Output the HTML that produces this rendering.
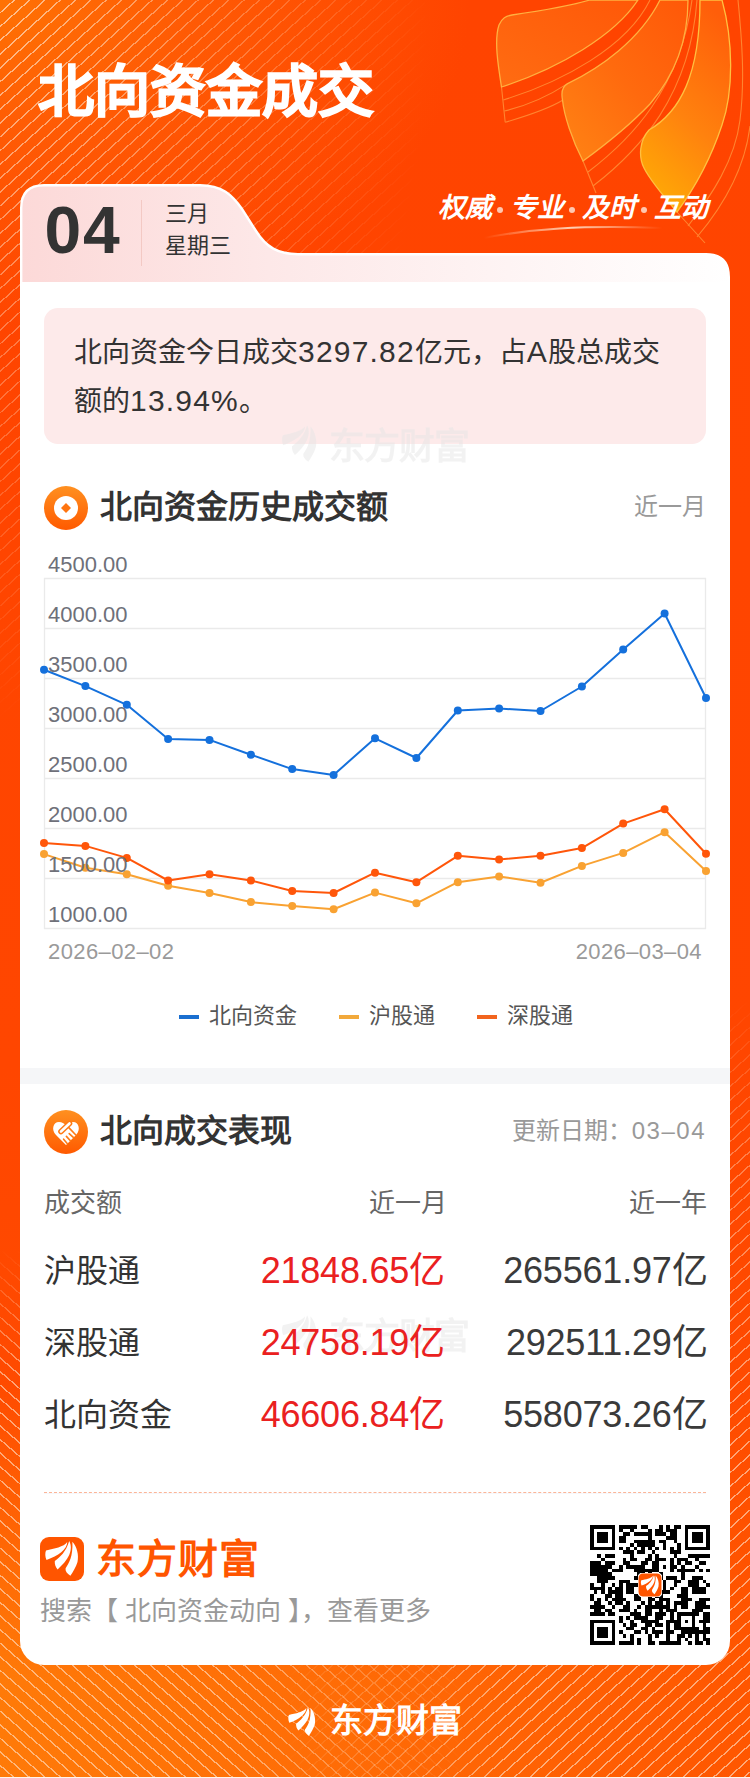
<!DOCTYPE html>
<html lang="zh-CN">
<head>
<meta charset="utf-8">
<style>
*{margin:0;padding:0;box-sizing:border-box;}
html,body{width:750px;height:1778px;overflow:hidden;}
body{position:relative;font-family:"Liberation Sans",sans-serif;color:#333;background:#FF4A00;}
.abs{position:absolute;}
#bg{left:0;top:0;width:750px;height:1778px;
 background:
  radial-gradient(ellipse 470px 330px at 0 0, rgba(255,114,4,1) 0%, rgba(255,100,6,.7) 40%, rgba(255,70,0,0) 100%),
  linear-gradient(180deg,#FF4400 0%,#FF4600 60%,#FF5000 100%);}
#stripeTL{left:0;top:0;width:750px;height:760px;
 background:repeating-linear-gradient(138deg, rgba(255,225,200,0) 0 8.9px, rgba(255,225,200,.72) 8.9px 10.25px);
 -webkit-mask-image:radial-gradient(ellipse 430px 720px at 0 0, #000 0%, rgba(0,0,0,.5) 45%, transparent 100%);}
.sw{left:0;width:750px;}
.sw>div{position:absolute;left:0;top:0;width:100%;height:100%;}
#botgrad{left:0;top:1380px;width:750px;height:398px;background:linear-gradient(90deg,#FF7A08 0%,#FF6C06 45%,#FF5600 100%);-webkit-mask-image:linear-gradient(180deg,transparent 0%,rgba(0,0,0,.7) 50%,#000 75%);}
#stripeBL{top:1250px;height:528px;-webkit-mask-image:linear-gradient(90deg,#000 0%,#000 30%,transparent 62%);}
#stripeBL>div{background:repeating-linear-gradient(41deg, rgba(255,225,200,0) 0 8.9px, rgba(255,225,200,.6) 8.9px 10.25px);
 -webkit-mask-image:linear-gradient(180deg,transparent 0%,#000 25%);}
#stripeBR{top:1000px;height:778px;-webkit-mask-image:linear-gradient(90deg,transparent 0%,transparent 38%,#000 68%);}
#stripeBR>div{background:repeating-linear-gradient(138deg, rgba(255,225,200,0) 0 8.9px, rgba(255,225,200,.6) 8.9px 10.25px);
 -webkit-mask-image:linear-gradient(180deg,transparent 0%,rgba(0,0,0,.6) 20%,#000 60%);}
#botline{left:0;top:1777px;width:750px;height:1px;background:#FFF4EC;}
.title{left:38px;top:55.5px;font-size:56px;font-weight:bold;-webkit-text-stroke:1.4px #fff;color:#fff;letter-spacing:0px;line-height:72px;white-space:nowrap;}
.slogan{left:438px;top:191.5px;font-style:italic;font-weight:bold;font-size:27px;line-height:32px;color:#fff;white-space:nowrap;}
.slogan i{display:inline-block;width:18px;height:8px;position:relative;}.slogan i:after{content:"";position:absolute;left:5px;top:-2px;width:6px;height:6px;border-radius:50%;background:#FFC8B0;}
#cardtop{left:0;top:0;}
#card{left:20px;top:282px;width:710px;height:1383px;background:#fff;border-radius:0 0 24px 24px;}
.day{left:44.5px;top:194px;font-size:66px;font-weight:bold;color:#333;line-height:72px;letter-spacing:1.8px;}
.vsep{left:141px;top:200px;width:1px;height:66px;background:#F3C9C4;}
.mon{left:165px;top:197.5px;font-size:22px;color:#333;line-height:32.5px;}
.sum{left:44px;top:308px;width:662px;height:136px;background:#FDEAEA;border-radius:14px;}
.sumtxt{left:74px;top:328px;width:600px;font-size:28px;line-height:48px;color:#333;}
.icon{width:44px;height:44px;}
.h2{font-size:32px;font-weight:bold;color:#333;line-height:40px;white-space:nowrap;}
.grey{color:#999;font-size:24px;line-height:32px;white-space:nowrap;}
.chart{position:absolute;left:0;top:0;}
.yl{font-size:22px;fill:#6E7079;font-family:"Liberation Sans",sans-serif;}
.xl{font-size:22px;letter-spacing:.4px;fill:#9A9A9A;font-family:"Liberation Sans",sans-serif;}
.legend{top:1000px;font-size:22px;color:#555;line-height:32px;white-space:nowrap;}
.lg{position:absolute;height:4px;width:20px;top:1015px;}
.band{left:20px;top:1068px;width:710px;height:16px;background:#F5F6F8;}
.th{font-size:26px;color:#666;line-height:32px;white-space:nowrap;}
.rowl{font-size:32px;color:#333;line-height:40px;white-space:nowrap;}
.rv{font-size:36px;line-height:40px;white-space:nowrap;text-align:right;letter-spacing:-.2px;color:#3A3A3A;}
.red{color:#EA2020;}
.dash{left:44px;top:1491.8px;width:662px;height:2.5px;border-top:1.5px dashed #FBB597;border-bottom:1px solid #F7F7FA;}
.brand{font-size:40px;font-weight:bold;color:#FF5500;line-height:48px;white-space:nowrap;letter-spacing:1px;}
.search{left:40px;top:1594px;font-size:26px;color:#999;line-height:34px;white-space:nowrap;}
.qr{position:absolute;left:590px;top:1525px;}
.wm{opacity:.06;}
.n{font-size:30px;letter-spacing:1.2px;}
.d{letter-spacing:1.5px;}
</style>
</head>
<body>
<div id="bg" class="abs"></div>
<div id="botgrad" class="abs"></div>
<div id="stripeTL" class="abs"></div>
<div id="stripeBL" class="abs sw"><div></div></div>
<div id="stripeBR" class="abs sw"><div></div></div>
<div id="botline" class="abs"></div>

<svg width="0" height="0" style="position:absolute">
 <defs>
  <g id="leaves">
   <path d="M6,13.5 C14,11.5 24,10 27.2,5 C27.5,12 18,19 6.5,23 C5,20 5,16 6,13.5 Z"/>
   <path d="M14.8,24 C20,20 26,15 29.2,4 C32.5,10 32,20 17.6,32.4 C15.5,30 14.5,27 14.8,24 Z"/>
   <path d="M25.6,31.2 C29,26 33,20 32.4,4.8 C37,10 39,18 37.5,25 C36,30 33,35 30.4,38.8 C27,36.5 25,34 25.6,31.2 Z"/>
  </g>
 </defs>
</svg>

<!-- big decor top-right -->
<svg class="abs" style="left:0;top:0" width="750" height="260" viewBox="0 0 750 260">
 <defs>
  <linearGradient id="lfA" x1="0" y1="1" x2="1" y2="0"><stop offset="0" stop-color="#FF6C12"/><stop offset="1" stop-color="#FF5808"/></linearGradient>
  <linearGradient id="lfB" x1="0" y1="1" x2="1" y2="0"><stop offset="0" stop-color="#FF8414"/><stop offset=".5" stop-color="#FF6A0E"/><stop offset="1" stop-color="#FF5808"/></linearGradient>
  <linearGradient id="lfC" x1="0.3" y1="1" x2="0.7" y2="0"><stop offset="0" stop-color="#FFAA06"/><stop offset=".45" stop-color="#FF820E"/><stop offset="1" stop-color="#FF5E0A"/></linearGradient>
  <linearGradient id="arc" x1="0" y1="0" x2="1" y2="0"><stop offset="0" stop-color="#FFE0C8" stop-opacity="0"/><stop offset=".5" stop-color="#FFE0C8" stop-opacity=".9"/><stop offset="1" stop-color="#FFE0C8" stop-opacity="0"/></linearGradient>
 </defs>
 <g fill="none" stroke="#FF9A40" stroke-width="1.1" opacity=".75">
  <path d="M503.3,100 C562,82 627,47 650,0"/>
  <path d="M504.3,111 C530,105 550,95 567.6,83.6"/>
  <path d="M505.2,122.3 C530,115 550,108 563,100"/>
  <path d="M501.5,87 L505.2,122.3"/>
  <path d="M588,172 C630,140 680,90 692,0"/>
  <path d="M593,186 C640,150 690,95 697,0"/>
  <path d="M583,161 L596,193"/>
  <path d="M688,226 C712,195 735,160 740,120 C745,80 742,40 738,0"/>
  <path d="M697,237 C724,205 745,168 750,126"/>
  <path d="M677,212 L705,243"/>
 </g>
 <path d="M501.5,87 C498,65 494,40 499,25 C502,18 506,16 512,15 C540,11 570,6 590,0 L638,0 C615,35 560,68 501.5,87 Z" fill="url(#lfA)" stroke="#FFB040" stroke-width="1.3"/>
 <path d="M567.6,83.6 C600,68 640,40 660,0 L688,0 C688,40 675,75 650,104 C630,125 605,145 583,161 C572,140 564,115 562.5,100 C561,92 563,86 567.6,83.6 Z" fill="url(#lfB)" stroke="#FFB040" stroke-width="1.3"/>
 <path d="M649,130 C680,112 700,75 700,0 L722,0 C733,40 734,90 722,125 C712,155 697,185 677,212 C665,198 650,180 644,168 C638,156 640,140 649,130 Z" fill="url(#lfC)" stroke="#FFC040" stroke-width="1.3"/>
 <path d="M484,238 C530,229 580,225 662,228" fill="none" stroke="url(#arc)" stroke-width="2"/>
</svg>

<div class="abs title">北向资金成交</div>
<div class="abs slogan">权威<i></i>专业<i></i>及时<i></i>互动</div>

<!-- card top shape -->
<svg class="abs" style="left:0;top:0" width="750" height="300" viewBox="0 0 750 300">
 <defs>
  <linearGradient id="tabg" x1="0" y1="0" x2="1" y2="0">
   <stop offset="0" stop-color="#FCD9D8"/><stop offset=".35" stop-color="#FDE8E8"/><stop offset="1" stop-color="#FFFFFF"/>
  </linearGradient>
  <linearGradient id="tabv" x1="0" y1="0" x2="0" y2="1">
   <stop offset="0" stop-color="#fff" stop-opacity="0"/><stop offset=".75" stop-color="#fff" stop-opacity="0"/><stop offset="1" stop-color="#fff" stop-opacity=".3"/>
  </linearGradient>
 </defs>
 <path d="M21.2,300 L21.2,208 Q21.2,185.2 44,185.2 L200,185.2 C222,185.2 232,195 242,209 L256,231 C266,247 278,254.2 298,254.2 L706,254.2 Q728.8,254.2 728.8,277 L728.8,300 Z" fill="url(#tabg)" stroke="#fff" stroke-width="2.4"/>
</svg>
<div id="card" class="abs"></div>

<div class="abs day">04</div>
<div class="abs vsep"></div>
<div class="abs mon">三月<br>星期三</div>

<div class="abs sum"></div>
<div class="abs sumtxt">北向资金今日成交<span class="n">3297.82</span>亿元，占<span class="n">A</span>股总成交<br>额的<span class="n">13.94%</span>。</div>

<!-- watermark -->
<svg class="abs" style="left:270px;top:415px" width="210" height="55" viewBox="0 0 210 55"><g fill="#E6E6E6" opacity=".5"><g transform="translate(6.45,6.1) scale(1.05)"><use href="#leaves"/></g><text x="59" y="44" font-size="36" font-weight="bold" font-family="Liberation Sans,sans-serif" letter-spacing="-1">东方财富</text></g></svg>
<svg class="abs" style="left:270px;top:1305px" width="210" height="55" viewBox="0 0 210 55"><g fill="#E6E6E6" opacity=".5"><g transform="translate(6.45,6.1) scale(1.05)"><use href="#leaves"/></g><text x="59" y="44" font-size="36" font-weight="bold" font-family="Liberation Sans,sans-serif" letter-spacing="-1">东方财富</text></g></svg>

<!-- section 1 header -->
<svg class="abs icon" style="left:44px;top:486px" viewBox="0 0 44 44">
 <defs><linearGradient id="ig1" x1="0" y1="0" x2="0" y2="1"><stop offset="0" stop-color="#FF9020"/><stop offset="1" stop-color="#FF5A00"/></linearGradient></defs>
 <circle cx="22" cy="22" r="22" fill="url(#ig1)"/><circle cx="22" cy="22" r="12" fill="#fff"/>
 <path d="M22,17 L27,22 L22,27 L17,22 Z" fill="#FF7510"/>
</svg>
<div class="abs h2" style="left:100px;top:487px">北向资金历史成交额</div>
<div class="abs grey" style="right:44px;top:491px">近一月</div>

<svg class="chart" width="750" height="1000" viewBox="0 0 750 1000">
<line x1="44" y1="578.5" x2="706" y2="578.5" stroke="#EAEAEA" stroke-width="1.3"/><line x1="44" y1="628.5" x2="706" y2="628.5" stroke="#EAEAEA" stroke-width="1.3"/><line x1="44" y1="678.5" x2="706" y2="678.5" stroke="#EAEAEA" stroke-width="1.3"/><line x1="44" y1="728.5" x2="706" y2="728.5" stroke="#EAEAEA" stroke-width="1.3"/><line x1="44" y1="778.5" x2="706" y2="778.5" stroke="#EAEAEA" stroke-width="1.3"/><line x1="44" y1="828.5" x2="706" y2="828.5" stroke="#EAEAEA" stroke-width="1.3"/><line x1="44" y1="878.5" x2="706" y2="878.5" stroke="#EAEAEA" stroke-width="1.3"/><line x1="44" y1="928.5" x2="706" y2="928.5" stroke="#EAEAEA" stroke-width="1.3"/><line x1="44.5" y1="578" x2="44.5" y2="929" stroke="#EAEAEA" stroke-width="1.3"/><line x1="705.5" y1="578" x2="705.5" y2="929" stroke="#EAEAEA" stroke-width="1.3"/>
<polyline points="44.0,854.1 85.4,867.7 126.8,874.2 168.1,885.8 209.5,893.0 250.9,902.1 292.2,905.9 333.6,909.3 375.0,892.6 416.4,903.3 457.8,882.2 499.1,876.4 540.5,882.7 581.9,865.9 623.2,852.9 664.6,832.2 706.0,871.1" fill="none" stroke="#F9A232" stroke-width="2" stroke-linejoin="round"/><circle cx="44.0" cy="854.1" r="4" fill="#F9A232"/><circle cx="85.4" cy="867.7" r="4" fill="#F9A232"/><circle cx="126.8" cy="874.2" r="4" fill="#F9A232"/><circle cx="168.1" cy="885.8" r="4" fill="#F9A232"/><circle cx="209.5" cy="893.0" r="4" fill="#F9A232"/><circle cx="250.9" cy="902.1" r="4" fill="#F9A232"/><circle cx="292.2" cy="905.9" r="4" fill="#F9A232"/><circle cx="333.6" cy="909.3" r="4" fill="#F9A232"/><circle cx="375.0" cy="892.6" r="4" fill="#F9A232"/><circle cx="416.4" cy="903.3" r="4" fill="#F9A232"/><circle cx="457.8" cy="882.2" r="4" fill="#F9A232"/><circle cx="499.1" cy="876.4" r="4" fill="#F9A232"/><circle cx="540.5" cy="882.7" r="4" fill="#F9A232"/><circle cx="581.9" cy="865.9" r="4" fill="#F9A232"/><circle cx="623.2" cy="852.9" r="4" fill="#F9A232"/><circle cx="664.6" cy="832.2" r="4" fill="#F9A232"/><circle cx="706.0" cy="871.1" r="4" fill="#F9A232"/>
<polyline points="44.0,843.0 85.4,845.9 126.8,857.9 168.1,880.5 209.5,874.2 250.9,880.5 292.2,891.0 333.6,893.0 375.0,872.7 416.4,882.2 457.8,855.8 499.1,859.6 540.5,855.8 581.9,848.1 623.2,823.6 664.6,809.2 706.0,853.8" fill="none" stroke="#FF560A" stroke-width="2" stroke-linejoin="round"/><circle cx="44.0" cy="843.0" r="4" fill="#FF560A"/><circle cx="85.4" cy="845.9" r="4" fill="#FF560A"/><circle cx="126.8" cy="857.9" r="4" fill="#FF560A"/><circle cx="168.1" cy="880.5" r="4" fill="#FF560A"/><circle cx="209.5" cy="874.2" r="4" fill="#FF560A"/><circle cx="250.9" cy="880.5" r="4" fill="#FF560A"/><circle cx="292.2" cy="891.0" r="4" fill="#FF560A"/><circle cx="333.6" cy="893.0" r="4" fill="#FF560A"/><circle cx="375.0" cy="872.7" r="4" fill="#FF560A"/><circle cx="416.4" cy="882.2" r="4" fill="#FF560A"/><circle cx="457.8" cy="855.8" r="4" fill="#FF560A"/><circle cx="499.1" cy="859.6" r="4" fill="#FF560A"/><circle cx="540.5" cy="855.8" r="4" fill="#FF560A"/><circle cx="581.9" cy="848.1" r="4" fill="#FF560A"/><circle cx="623.2" cy="823.6" r="4" fill="#FF560A"/><circle cx="664.6" cy="809.2" r="4" fill="#FF560A"/><circle cx="706.0" cy="853.8" r="4" fill="#FF560A"/>
<polyline points="44.0,669.8 85.4,686.1 126.8,704.8 168.1,738.9 209.5,739.9 250.9,754.7 292.2,769.1 333.6,774.9 375.0,738.3 416.4,758.0 457.8,710.5 499.1,708.6 540.5,711.0 581.9,686.5 623.2,649.5 664.6,613.5 706.0,698.0" fill="none" stroke="#1470DC" stroke-width="2" stroke-linejoin="round"/><circle cx="44.0" cy="669.8" r="4" fill="#1470DC"/><circle cx="85.4" cy="686.1" r="4" fill="#1470DC"/><circle cx="126.8" cy="704.8" r="4" fill="#1470DC"/><circle cx="168.1" cy="738.9" r="4" fill="#1470DC"/><circle cx="209.5" cy="739.9" r="4" fill="#1470DC"/><circle cx="250.9" cy="754.7" r="4" fill="#1470DC"/><circle cx="292.2" cy="769.1" r="4" fill="#1470DC"/><circle cx="333.6" cy="774.9" r="4" fill="#1470DC"/><circle cx="375.0" cy="738.3" r="4" fill="#1470DC"/><circle cx="416.4" cy="758.0" r="4" fill="#1470DC"/><circle cx="457.8" cy="710.5" r="4" fill="#1470DC"/><circle cx="499.1" cy="708.6" r="4" fill="#1470DC"/><circle cx="540.5" cy="711.0" r="4" fill="#1470DC"/><circle cx="581.9" cy="686.5" r="4" fill="#1470DC"/><circle cx="623.2" cy="649.5" r="4" fill="#1470DC"/><circle cx="664.6" cy="613.5" r="4" fill="#1470DC"/><circle cx="706.0" cy="698.0" r="4" fill="#1470DC"/>
<text x="48" y="572" class="yl">4500.00</text><text x="48" y="622" class="yl">4000.00</text><text x="48" y="672" class="yl">3500.00</text><text x="48" y="722" class="yl">3000.00</text><text x="48" y="772" class="yl">2500.00</text><text x="48" y="822" class="yl">2000.00</text><text x="48" y="872" class="yl">1500.00</text><text x="48" y="922" class="yl">1000.00</text>
<text x="48" y="959" class="xl">2026–02–02</text>
<text x="702" y="959" class="xl" text-anchor="end">2026–03–04</text>
</svg>

<div class="abs lg" style="left:179px;background:#1A6FD0"></div>
<div class="abs legend" style="left:209px">北向资金</div>
<div class="abs lg" style="left:339px;background:#F2A93B"></div>
<div class="abs legend" style="left:369px">沪股通</div>
<div class="abs lg" style="left:477px;background:#F2641E"></div>
<div class="abs legend" style="left:507px">深股通</div>

<div class="abs band"></div>

<!-- section 2 header -->
<svg class="abs icon" style="left:44px;top:1110px" viewBox="0 0 44 44">
 <defs><linearGradient id="ig2" x1="0" y1="0" x2="0" y2="1"><stop offset="0" stop-color="#FF9020"/><stop offset="1" stop-color="#FF5A00"/></linearGradient></defs>
 <circle cx="22" cy="22" r="22" fill="url(#ig2)"/>
 <path d="M22,35 L12,25 C7,20 9,12 15,12 C18,12 20,13.5 22,15.5 C24,13.5 26,12 29,12 C35,12 37,20 32,25 Z" fill="#fff"/>
 <path d="M17,21.5 L25.5,13.5" stroke="#FF7A14" stroke-width="5.6" stroke-linecap="round"/><path d="M17,21.5 L25.5,13.5" stroke="#fff" stroke-width="2.6" stroke-linecap="round"/>
 <path d="M24.8,17.6 L31.6,24.8 M25.2,23.6 L29.6,27.6 M22.4,26.4 L26.4,30.8 M19.6,29.2 L23.2,33.6" stroke="#FF7A14" stroke-width="1.6" fill="none" stroke-linecap="round"/>
</svg>
<div class="abs h2" style="left:100px;top:1111px">北向成交表现</div>
<div class="abs grey" style="right:44px;top:1115px">更新日期：<span class="d">03–04</span></div>

<div class="abs th" style="left:44px;top:1187px">成交额</div>
<div class="abs th" style="right:303px;top:1187px">近一月</div>
<div class="abs th" style="right:43px;top:1187px">近一年</div>

<div class="abs rowl" style="left:44px;top:1251px">沪股通</div>
<div class="abs rv red" style="right:305px;top:1251px">21848.65亿</div>
<div class="abs rv" style="right:42.6px;top:1251px">265561.97亿</div>
<div class="abs rowl" style="left:44px;top:1323px">深股通</div>
<div class="abs rv red" style="right:305px;top:1323px">24758.19亿</div>
<div class="abs rv" style="right:42.6px;top:1323px">292511.29亿</div>
<div class="abs rowl" style="left:44px;top:1395px">北向资金</div>
<div class="abs rv red" style="right:305px;top:1395px">46606.84亿</div>
<div class="abs rv" style="right:42.6px;top:1395px">558073.26亿</div>

<div class="abs dash"></div>

<!-- footer brand -->
<svg class="abs" style="left:40px;top:1537px" width="44" height="44" viewBox="0 0 44 44">
 <rect x="0" y="0" width="44" height="44" rx="9" fill="#FF5500"/>
 <g fill="#fff"><use href="#leaves"/></g>
</svg>
<div class="abs brand" style="left:96px;top:1535px">东方财富</div>
<div class="abs search">搜索【 北向资金动向 】，查看更多</div>

<svg class="qr" width="120" height="120" viewBox="0 0 120 120" shape-rendering="crispEdges"><path d="M0.00 0.00h25.45v3.64h-25.45zM29.09 0.00h18.18v3.64h-18.18zM50.91 0.00h7.27v3.64h-7.27zM69.09 0.00h3.64v3.64h-3.64zM76.36 0.00h3.64v3.64h-3.64zM83.64 0.00h7.27v3.64h-7.27zM94.55 0.00h25.45v3.64h-25.45zM0.00 3.64h3.64v3.64h-3.64zM21.82 3.64h3.64v3.64h-3.64zM29.09 3.64h3.64v3.64h-3.64zM40.00 3.64h3.64v3.64h-3.64zM58.18 3.64h3.64v3.64h-3.64zM65.45 3.64h7.27v3.64h-7.27zM76.36 3.64h10.91v3.64h-10.91zM94.55 3.64h3.64v3.64h-3.64zM116.36 3.64h3.64v3.64h-3.64zM0.00 7.27h3.64v3.64h-3.64zM7.27 7.27h10.91v3.64h-10.91zM21.82 7.27h3.64v3.64h-3.64zM32.73 7.27h7.27v3.64h-7.27zM43.64 7.27h18.18v3.64h-18.18zM65.45 7.27h10.91v3.64h-10.91zM80.00 7.27h7.27v3.64h-7.27zM94.55 7.27h3.64v3.64h-3.64zM101.82 7.27h10.91v3.64h-10.91zM116.36 7.27h3.64v3.64h-3.64zM0.00 10.91h3.64v3.64h-3.64zM7.27 10.91h10.91v3.64h-10.91zM21.82 10.91h3.64v3.64h-3.64zM29.09 10.91h7.27v3.64h-7.27zM58.18 10.91h3.64v3.64h-3.64zM76.36 10.91h10.91v3.64h-10.91zM94.55 10.91h3.64v3.64h-3.64zM101.82 10.91h10.91v3.64h-10.91zM116.36 10.91h3.64v3.64h-3.64zM0.00 14.55h3.64v3.64h-3.64zM7.27 14.55h10.91v3.64h-10.91zM21.82 14.55h3.64v3.64h-3.64zM29.09 14.55h7.27v3.64h-7.27zM43.64 14.55h21.82v3.64h-21.82zM69.09 14.55h7.27v3.64h-7.27zM83.64 14.55h3.64v3.64h-3.64zM94.55 14.55h3.64v3.64h-3.64zM101.82 14.55h10.91v3.64h-10.91zM116.36 14.55h3.64v3.64h-3.64zM0.00 18.18h3.64v3.64h-3.64zM21.82 18.18h3.64v3.64h-3.64zM40.00 18.18h3.64v3.64h-3.64zM47.27 18.18h18.18v3.64h-18.18zM72.73 18.18h3.64v3.64h-3.64zM87.27 18.18h3.64v3.64h-3.64zM94.55 18.18h3.64v3.64h-3.64zM116.36 18.18h3.64v3.64h-3.64zM0.00 21.82h25.45v3.64h-25.45zM29.09 21.82h3.64v3.64h-3.64zM36.36 21.82h3.64v3.64h-3.64zM43.64 21.82h3.64v3.64h-3.64zM50.91 21.82h3.64v3.64h-3.64zM58.18 21.82h3.64v3.64h-3.64zM65.45 21.82h3.64v3.64h-3.64zM72.73 21.82h3.64v3.64h-3.64zM80.00 21.82h3.64v3.64h-3.64zM87.27 21.82h3.64v3.64h-3.64zM94.55 21.82h25.45v3.64h-25.45zM32.73 25.45h10.91v3.64h-10.91zM47.27 25.45h7.27v3.64h-7.27zM61.82 25.45h3.64v3.64h-3.64zM80.00 25.45h10.91v3.64h-10.91zM7.27 29.09h3.64v3.64h-3.64zM14.55 29.09h10.91v3.64h-10.91zM40.00 29.09h3.64v3.64h-3.64zM58.18 29.09h3.64v3.64h-3.64zM65.45 29.09h3.64v3.64h-3.64zM83.64 29.09h3.64v3.64h-3.64zM98.18 29.09h21.82v3.64h-21.82zM10.91 32.73h3.64v3.64h-3.64zM32.73 32.73h3.64v3.64h-3.64zM40.00 32.73h7.27v3.64h-7.27zM54.55 32.73h7.27v3.64h-7.27zM65.45 32.73h10.91v3.64h-10.91zM80.00 32.73h3.64v3.64h-3.64zM87.27 32.73h10.91v3.64h-10.91zM105.45 32.73h3.64v3.64h-3.64zM0.00 36.36h10.91v3.64h-10.91zM14.55 36.36h10.91v3.64h-10.91zM32.73 36.36h7.27v3.64h-7.27zM50.91 36.36h7.27v3.64h-7.27zM61.82 36.36h7.27v3.64h-7.27zM80.00 36.36h3.64v3.64h-3.64zM87.27 36.36h3.64v3.64h-3.64zM94.55 36.36h7.27v3.64h-7.27zM109.09 36.36h7.27v3.64h-7.27zM0.00 40.00h21.82v3.64h-21.82zM29.09 40.00h3.64v3.64h-3.64zM36.36 40.00h18.18v3.64h-18.18zM61.82 40.00h7.27v3.64h-7.27zM72.73 40.00h3.64v3.64h-3.64zM80.00 40.00h7.27v3.64h-7.27zM90.91 40.00h3.64v3.64h-3.64zM105.45 40.00h3.64v3.64h-3.64zM0.00 43.64h18.18v3.64h-18.18zM21.82 43.64h10.91v3.64h-10.91zM43.64 43.64h25.45v3.64h-25.45zM80.00 43.64h3.64v3.64h-3.64zM87.27 43.64h18.18v3.64h-18.18zM109.09 43.64h3.64v3.64h-3.64zM116.36 43.64h3.64v3.64h-3.64zM0.00 47.27h21.82v3.64h-21.82zM47.27 47.27h7.27v3.64h-7.27zM58.18 47.27h3.64v3.64h-3.64zM69.09 47.27h3.64v3.64h-3.64zM90.91 47.27h3.64v3.64h-3.64zM7.27 50.91h18.18v3.64h-18.18zM43.64 50.91h7.27v3.64h-7.27zM69.09 50.91h3.64v3.64h-3.64zM76.36 50.91h10.91v3.64h-10.91zM90.91 50.91h3.64v3.64h-3.64zM101.82 50.91h10.91v3.64h-10.91zM7.27 54.55h10.91v3.64h-10.91zM29.09 54.55h10.91v3.64h-10.91zM50.91 54.55h3.64v3.64h-3.64zM58.18 54.55h10.91v3.64h-10.91zM72.73 54.55h3.64v3.64h-3.64zM83.64 54.55h7.27v3.64h-7.27zM98.18 54.55h10.91v3.64h-10.91zM112.73 54.55h3.64v3.64h-3.64zM0.00 58.18h3.64v3.64h-3.64zM10.91 58.18h3.64v3.64h-3.64zM21.82 58.18h3.64v3.64h-3.64zM29.09 58.18h3.64v3.64h-3.64zM36.36 58.18h32.73v3.64h-32.73zM72.73 58.18h3.64v3.64h-3.64zM83.64 58.18h3.64v3.64h-3.64zM98.18 58.18h10.91v3.64h-10.91zM116.36 58.18h3.64v3.64h-3.64zM0.00 61.82h14.55v3.64h-14.55zM18.18 61.82h3.64v3.64h-3.64zM25.45 61.82h7.27v3.64h-7.27zM36.36 61.82h7.27v3.64h-7.27zM72.73 61.82h3.64v3.64h-3.64zM80.00 61.82h3.64v3.64h-3.64zM90.91 61.82h7.27v3.64h-7.27zM101.82 61.82h14.55v3.64h-14.55zM3.64 65.45h3.64v3.64h-3.64zM10.91 65.45h3.64v3.64h-3.64zM18.18 65.45h14.55v3.64h-14.55zM36.36 65.45h7.27v3.64h-7.27zM50.91 65.45h29.09v3.64h-29.09zM90.91 65.45h7.27v3.64h-7.27zM101.82 65.45h14.55v3.64h-14.55zM0.00 69.09h3.64v3.64h-3.64zM14.55 69.09h7.27v3.64h-7.27zM25.45 69.09h7.27v3.64h-7.27zM43.64 69.09h7.27v3.64h-7.27zM58.18 69.09h3.64v3.64h-3.64zM65.45 69.09h7.27v3.64h-7.27zM87.27 69.09h10.91v3.64h-10.91zM0.00 72.73h3.64v3.64h-3.64zM7.27 72.73h3.64v3.64h-3.64zM14.55 72.73h3.64v3.64h-3.64zM21.82 72.73h14.55v3.64h-14.55zM43.64 72.73h7.27v3.64h-7.27zM58.18 72.73h7.27v3.64h-7.27zM69.09 72.73h10.91v3.64h-10.91zM90.91 72.73h10.91v3.64h-10.91zM109.09 72.73h10.91v3.64h-10.91zM3.64 76.36h7.27v3.64h-7.27zM18.18 76.36h3.64v3.64h-3.64zM25.45 76.36h7.27v3.64h-7.27zM36.36 76.36h3.64v3.64h-3.64zM50.91 76.36h3.64v3.64h-3.64zM58.18 76.36h3.64v3.64h-3.64zM65.45 76.36h7.27v3.64h-7.27zM76.36 76.36h3.64v3.64h-3.64zM83.64 76.36h14.55v3.64h-14.55zM105.45 76.36h10.91v3.64h-10.91zM0.00 80.00h14.55v3.64h-14.55zM21.82 80.00h3.64v3.64h-3.64zM32.73 80.00h7.27v3.64h-7.27zM47.27 80.00h3.64v3.64h-3.64zM54.55 80.00h25.45v3.64h-25.45zM83.64 80.00h3.64v3.64h-3.64zM90.91 80.00h7.27v3.64h-7.27zM105.45 80.00h14.55v3.64h-14.55zM3.64 83.64h7.27v3.64h-7.27zM14.55 83.64h7.27v3.64h-7.27zM29.09 83.64h10.91v3.64h-10.91zM43.64 83.64h3.64v3.64h-3.64zM54.55 83.64h7.27v3.64h-7.27zM69.09 83.64h3.64v3.64h-3.64zM76.36 83.64h10.91v3.64h-10.91zM101.82 83.64h10.91v3.64h-10.91zM0.00 87.27h14.55v3.64h-14.55zM18.18 87.27h7.27v3.64h-7.27zM40.00 87.27h10.91v3.64h-10.91zM54.55 87.27h7.27v3.64h-7.27zM65.45 87.27h10.91v3.64h-10.91zM80.00 87.27h3.64v3.64h-3.64zM87.27 87.27h21.82v3.64h-21.82zM112.73 87.27h7.27v3.64h-7.27zM29.09 90.91h3.64v3.64h-3.64zM36.36 90.91h3.64v3.64h-3.64zM43.64 90.91h14.55v3.64h-14.55zM65.45 90.91h7.27v3.64h-7.27zM80.00 90.91h3.64v3.64h-3.64zM87.27 90.91h3.64v3.64h-3.64zM101.82 90.91h3.64v3.64h-3.64zM112.73 90.91h7.27v3.64h-7.27zM0.00 94.55h25.45v3.64h-25.45zM29.09 94.55h3.64v3.64h-3.64zM40.00 94.55h3.64v3.64h-3.64zM50.91 94.55h18.18v3.64h-18.18zM76.36 94.55h14.55v3.64h-14.55zM94.55 94.55h3.64v3.64h-3.64zM101.82 94.55h3.64v3.64h-3.64zM109.09 94.55h10.91v3.64h-10.91zM0.00 98.18h3.64v3.64h-3.64zM21.82 98.18h3.64v3.64h-3.64zM32.73 98.18h3.64v3.64h-3.64zM40.00 98.18h7.27v3.64h-7.27zM54.55 98.18h7.27v3.64h-7.27zM65.45 98.18h7.27v3.64h-7.27zM76.36 98.18h3.64v3.64h-3.64zM83.64 98.18h7.27v3.64h-7.27zM101.82 98.18h3.64v3.64h-3.64zM112.73 98.18h3.64v3.64h-3.64zM0.00 101.82h3.64v3.64h-3.64zM7.27 101.82h10.91v3.64h-10.91zM21.82 101.82h3.64v3.64h-3.64zM36.36 101.82h7.27v3.64h-7.27zM50.91 101.82h7.27v3.64h-7.27zM61.82 101.82h3.64v3.64h-3.64zM76.36 101.82h3.64v3.64h-3.64zM83.64 101.82h25.45v3.64h-25.45zM112.73 101.82h7.27v3.64h-7.27zM0.00 105.45h3.64v3.64h-3.64zM7.27 105.45h10.91v3.64h-10.91zM21.82 105.45h3.64v3.64h-3.64zM29.09 105.45h3.64v3.64h-3.64zM43.64 105.45h7.27v3.64h-7.27zM54.55 105.45h3.64v3.64h-3.64zM61.82 105.45h10.91v3.64h-10.91zM76.36 105.45h7.27v3.64h-7.27zM90.91 105.45h29.09v3.64h-29.09zM0.00 109.09h3.64v3.64h-3.64zM7.27 109.09h10.91v3.64h-10.91zM21.82 109.09h3.64v3.64h-3.64zM32.73 109.09h3.64v3.64h-3.64zM40.00 109.09h3.64v3.64h-3.64zM58.18 109.09h3.64v3.64h-3.64zM65.45 109.09h3.64v3.64h-3.64zM76.36 109.09h3.64v3.64h-3.64zM87.27 109.09h7.27v3.64h-7.27zM98.18 109.09h3.64v3.64h-3.64zM105.45 109.09h3.64v3.64h-3.64zM112.73 109.09h3.64v3.64h-3.64zM0.00 112.73h3.64v3.64h-3.64zM21.82 112.73h3.64v3.64h-3.64zM40.00 112.73h3.64v3.64h-3.64zM47.27 112.73h3.64v3.64h-3.64zM58.18 112.73h3.64v3.64h-3.64zM76.36 112.73h3.64v3.64h-3.64zM87.27 112.73h3.64v3.64h-3.64zM94.55 112.73h3.64v3.64h-3.64zM105.45 112.73h3.64v3.64h-3.64zM112.73 112.73h7.27v3.64h-7.27zM0.00 116.36h25.45v3.64h-25.45zM29.09 116.36h14.55v3.64h-14.55zM47.27 116.36h3.64v3.64h-3.64zM58.18 116.36h7.27v3.64h-7.27zM69.09 116.36h21.82v3.64h-21.82zM98.18 116.36h3.64v3.64h-3.64zM105.45 116.36h7.27v3.64h-7.27zM116.36 116.36h3.64v3.64h-3.64z" fill="#000"/></svg>
<svg class="abs" style="left:638px;top:1573px" width="24" height="24" viewBox="0 0 44 44">
 <rect x="0" y="0" width="44" height="44" rx="9" fill="#FF5500" stroke="#fff" stroke-width="2"/>
 <g fill="#fff"><use href="#leaves"/></g>
</svg>

<!-- bottom brand -->
<svg class="abs" style="left:284.1px;top:1703.5px" width="36.1" height="36.1" viewBox="0 0 44 44">
 <g fill="#fff"><use href="#leaves"/></g>
</svg>
<div class="abs brand" style="left:330px;top:1697px;color:#fff;font-size:33px;letter-spacing:0">东方财富</div>

</body>
</html>
